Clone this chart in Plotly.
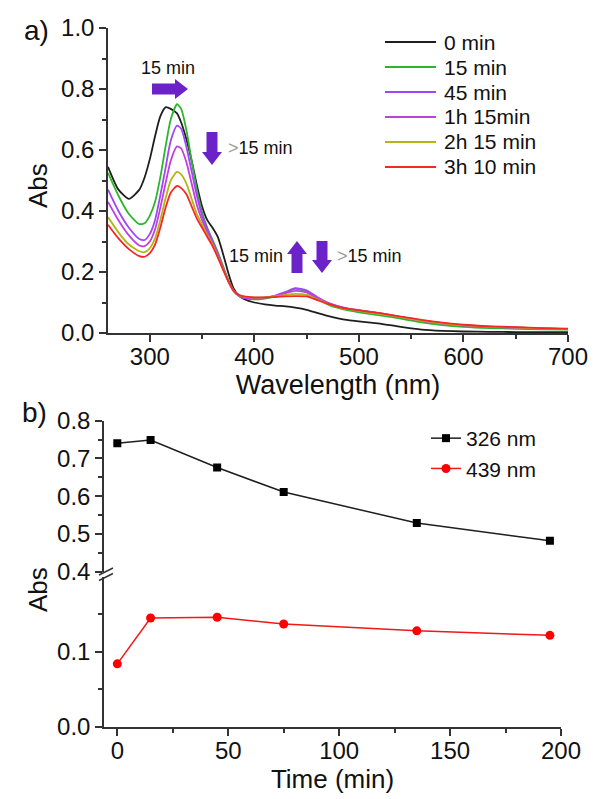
import math

import plotly.graph_objects as go

# a) UV-vis spectra
wavelength = [260, 270, 280, 290, 295, 300, 305, 310, 315, 320, 326, 330, 335, 340,
              345, 350, 355, 360, 365, 370, 375, 380, 385, 390, 400, 410, 420, 430,
              439, 450, 460, 470, 480, 490, 500, 520, 540, 560, 580, 600, 625, 650,
              675, 700]
abs_0min = [0.545, 0.47, 0.44, 0.47, 0.51, 0.57, 0.645, 0.71, 0.74, 0.735, 0.72, 0.69,
            0.635, 0.565, 0.485, 0.415, 0.37, 0.345, 0.315, 0.26, 0.198, 0.147, 0.123,
            0.112, 0.1, 0.094, 0.09, 0.087, 0.083, 0.076, 0.066, 0.056, 0.048, 0.042,
            0.038, 0.031, 0.02, 0.011, 0.007, 0.005, 0.004, 0.003, 0.003, 0.003]
abs_15min = [0.525, 0.45, 0.39, 0.357, 0.36, 0.385, 0.43, 0.51, 0.61, 0.7, 0.75, 0.735,
             0.665, 0.565, 0.47, 0.395, 0.345, 0.305, 0.265, 0.22, 0.175, 0.14, 0.122,
             0.115, 0.11, 0.113, 0.12, 0.132, 0.145, 0.135, 0.112, 0.094, 0.082, 0.074,
             0.068, 0.058, 0.047, 0.035, 0.026, 0.02, 0.016, 0.014, 0.012, 0.011]
abs_45min = [0.47, 0.4, 0.345, 0.308, 0.305, 0.325, 0.37, 0.45, 0.54, 0.63, 0.68, 0.67,
             0.61, 0.53, 0.45, 0.385, 0.34, 0.3, 0.26, 0.215, 0.172, 0.138, 0.122, 0.115,
             0.112, 0.115, 0.123, 0.135, 0.147, 0.14, 0.118, 0.1, 0.088, 0.08, 0.075,
             0.065, 0.053, 0.041, 0.032, 0.026, 0.021, 0.018, 0.015, 0.013]
abs_75min = [0.43, 0.37, 0.32, 0.287, 0.285, 0.3, 0.34, 0.41, 0.49, 0.565, 0.612, 0.605,
             0.56, 0.49, 0.42, 0.37, 0.33, 0.295, 0.255, 0.212, 0.17, 0.138, 0.123, 0.117,
             0.114, 0.116, 0.122, 0.131, 0.138, 0.133, 0.115, 0.099, 0.087, 0.079, 0.074,
             0.064, 0.052, 0.04, 0.031, 0.025, 0.02, 0.017, 0.015, 0.013]
abs_135min = [0.38, 0.33, 0.29, 0.268, 0.265, 0.278, 0.31, 0.37, 0.44, 0.5, 0.528, 0.52,
              0.49, 0.44, 0.39, 0.355, 0.32, 0.29, 0.25, 0.21, 0.17, 0.14, 0.125, 0.119,
              0.116, 0.117, 0.12, 0.125, 0.128, 0.125, 0.11, 0.096, 0.085, 0.078, 0.073,
              0.063, 0.052, 0.041, 0.032, 0.026, 0.021, 0.018, 0.015, 0.013]
abs_190min = [0.355, 0.31, 0.275, 0.252, 0.25, 0.262, 0.29, 0.345, 0.41, 0.46, 0.482,
              0.475, 0.455, 0.415, 0.375, 0.345, 0.315, 0.285, 0.248, 0.208, 0.17, 0.14,
              0.125, 0.12, 0.117, 0.117, 0.118, 0.12, 0.121, 0.12, 0.108, 0.096, 0.086,
              0.079, 0.074, 0.065, 0.054, 0.043, 0.034, 0.027, 0.022, 0.019, 0.016, 0.014]

spectrum_labels = ["0 min", "15 min", "45 min", "1h 15min", "2h 15 min", "3h 10 min"]
spectrum_values = [abs_0min, abs_15min, abs_45min, abs_75min, abs_135min, abs_190min]
spectrum_colours = ["#1e1e1e", "#2db52d", "#a046f5", "#c040dc", "#b4b414", "#f52828"]

# b) absorbance against time
time_min = [0, 15, 45, 75, 135, 195]
abs_326 = [0.740, 0.749, 0.676, 0.611, 0.529, 0.482]
abs_439 = [0.084, 0.145, 0.146, 0.137, 0.128, 0.122]

# the page body adds an 8 px margin, so the figure is 8 px smaller each way
OFF = 8
W, H = 604 - OFF, 799 - OFF
ML, MR, MT, MB = 96, 36, 20, 72
PW = W - ML - MR
PH = H - MT - MB
ARROW = "#6b23c9"
FONT = "Arial, Liberation Sans, sans-serif"


def paper(px, py):
    # screen pixel -> paper coords
    return (px - OFF - ML) / PW, 1 - (py - OFF - MT) / PH


def block_arrow(x0, y0, x1, y1, shaft=11, head=20, head_len=13):
    # fat arrow polygon, given in pixels, converted to paper coords
    length = math.hypot(x1 - x0, y1 - y0)
    ux, uy = (x1 - x0) / length, (y1 - y0) / length
    nx, ny = -uy, ux
    bx, by = x1 - ux * head_len, y1 - uy * head_len
    pts = [
        (x0 + nx * shaft / 2, y0 + ny * shaft / 2),
        (bx + nx * shaft / 2, by + ny * shaft / 2),
        (bx + nx * head / 2, by + ny * head / 2),
        (x1, y1),
        (bx - nx * head / 2, by - ny * head / 2),
        (bx - nx * shaft / 2, by - ny * shaft / 2),
        (x0 - nx * shaft / 2, y0 - ny * shaft / 2),
    ]
    path = "M " + " L ".join(f"{paper(x, y)[0]:.5f},{paper(x, y)[1]:.5f}" for x, y in pts) + " Z"
    return dict(type="path", path=path, xref="paper", yref="paper",
                fillcolor=ARROW, line=dict(width=0))


def label(text, px, py, size=18, xanchor="center", angle=0):
    x, y = paper(px, py)
    return dict(text=text, x=x, y=y, xref="paper", yref="paper", showarrow=False,
                xanchor=xanchor, yanchor="middle", textangle=angle,
                font=dict(family=FONT, size=size, color="#111"))


def seg(px0, py0, px1, py1, colour, width=1.5):
    x0, y0 = paper(px0, py0)
    x1, y1 = paper(px1, py1)
    return dict(type="line", xref="paper", yref="paper", x0=x0, y0=y0, x1=x1, y1=y1,
                line=dict(color=colour, width=width))


fig = go.Figure()

for name, values, colour in zip(spectrum_labels, spectrum_values, spectrum_colours):
    fig.add_trace(go.Scatter(
        x=wavelength, y=values, mode="lines", name=name, showlegend=False,
        line=dict(color=colour, width=1.8, shape="spline", smoothing=0.6),
    ))

fig.add_trace(go.Scatter(
    x=time_min, y=abs_326, mode="lines+markers", name="326 nm",
    xaxis="x2", yaxis="y2",
    line=dict(color="#1e1e1e", width=1.5),
    marker=dict(symbol="square", size=8, color="#000"),
))
fig.add_trace(go.Scatter(
    x=time_min, y=abs_439, mode="lines+markers", name="439 nm",
    xaxis="x2", yaxis="y3",
    line=dict(color="#f01818", width=1.5),
    marker=dict(symbol="circle", size=9, color="#ff0000"),
))

axis_style = dict(
    showline=True, linecolor="#333", linewidth=1.5, showgrid=False, zeroline=False,
    automargin=False,
    ticks="outside", ticklen=7, tickwidth=1.5, tickcolor="#333",
    tickfont=dict(family=FONT, size=24, color="#111"),
    minor=dict(ticks="outside", ticklen=4, tickwidth=1.5, tickcolor="#333"),
)

x_top0 = paper(108, 0)[0]
x_bot1 = paper(561, 0)[0]

fig.update_layout(
    template="none",
    width=W, height=H,
    margin=dict(l=ML, r=MR, t=MT, b=MB, autoexpand=False),
    paper_bgcolor="white", plot_bgcolor="white",
    font=dict(family=FONT, color="#111"),
    xaxis=dict(axis_style, domain=[x_top0, 1], range=[260, 700], dtick=100,
               minor=dict(axis_style["minor"], dtick=50), anchor="y",
               ticklabelstandoff=-6,
               title=dict(text="Wavelength (nm)", font=dict(size=27), standoff=7)),
    yaxis=dict(axis_style, domain=[paper(0, 333)[1], 1], range=[0, 1.0], dtick=0.2,
               tickformat=".1f", minor=dict(axis_style["minor"], dtick=0.1), anchor="x"),
    xaxis2=dict(axis_style, domain=[0, x_bot1], range=[-6, 200], dtick=50,
                minor=dict(axis_style["minor"], dtick=25), anchor="y3",
                ticklabelstandoff=-6,
                title=dict(text="Time (min)", font=dict(size=26), standoff=0)),
    yaxis2=dict(axis_style, domain=[paper(0, 571.7)[1], paper(0, 420.7)[1]],
                range=[0.4, 0.8], dtick=0.1, tickformat=".1f",
                minor=dict(axis_style["minor"], dtick=0.05), anchor="x2"),
    yaxis3=dict(axis_style, domain=[0, paper(0, 576.7)[1]], range=[0, 0.2],
                tickmode="array", tickvals=[0, 0.1], ticktext=["0.0", "0.1"],
                minor=dict(axis_style["minor"], tickvals=[0.05, 0.15]), anchor="x2"),
    legend=dict(x=paper(426, 0)[0], y=paper(0, 418)[1], xanchor="left", yanchor="top",
                bgcolor="rgba(0,0,0,0)", borderwidth=0,
                font=dict(family=FONT, size=21, color="#111")),
    showlegend=True,
)

shapes = [
    block_arrow(152, 89, 188, 89),
    block_arrow(212, 132, 212, 165),
    block_arrow(297, 273, 297, 241),
    block_arrow(322, 241, 322, 273),
]
# axis break marks on the lower panel
for dy in (0, 5.5):
    shapes.append(seg(99, 575 + dy, 113, 568 + dy, "#333"))

annotations = [
    label("a)", 22, 31, size=28, xanchor="left"),
    label("b)", 20, 413, size=28, xanchor="left"),
    label("Abs", 38, 186, size=26, angle=-90),
    label("Abs", 38, 590, size=26, angle=-90),
    label("15 min", 168, 68, size=18),
    label("<span style='color:#9a9a9a'>&gt;</span>15 min", 226, 148, size=18, xanchor="left"),
    label("15 min", 285, 256, size=18, xanchor="right"),
    label("<span style='color:#9a9a9a'>&gt;</span>15 min", 335, 256, size=18, xanchor="left"),
]

# legend of panel a), drawn by hand so rows sit 25 px apart as in the figure
for i, (name, colour) in enumerate(zip(spectrum_labels, spectrum_colours)):
    row_y = 42 + 25 * i
    shapes.append(seg(385, row_y, 436, row_y, colour, width=2))
    annotations.append(label(name, 442, row_y, size=21, xanchor="left"))

fig.update_layout(shapes=shapes, annotations=annotations)

fig.write_html("out.html")
